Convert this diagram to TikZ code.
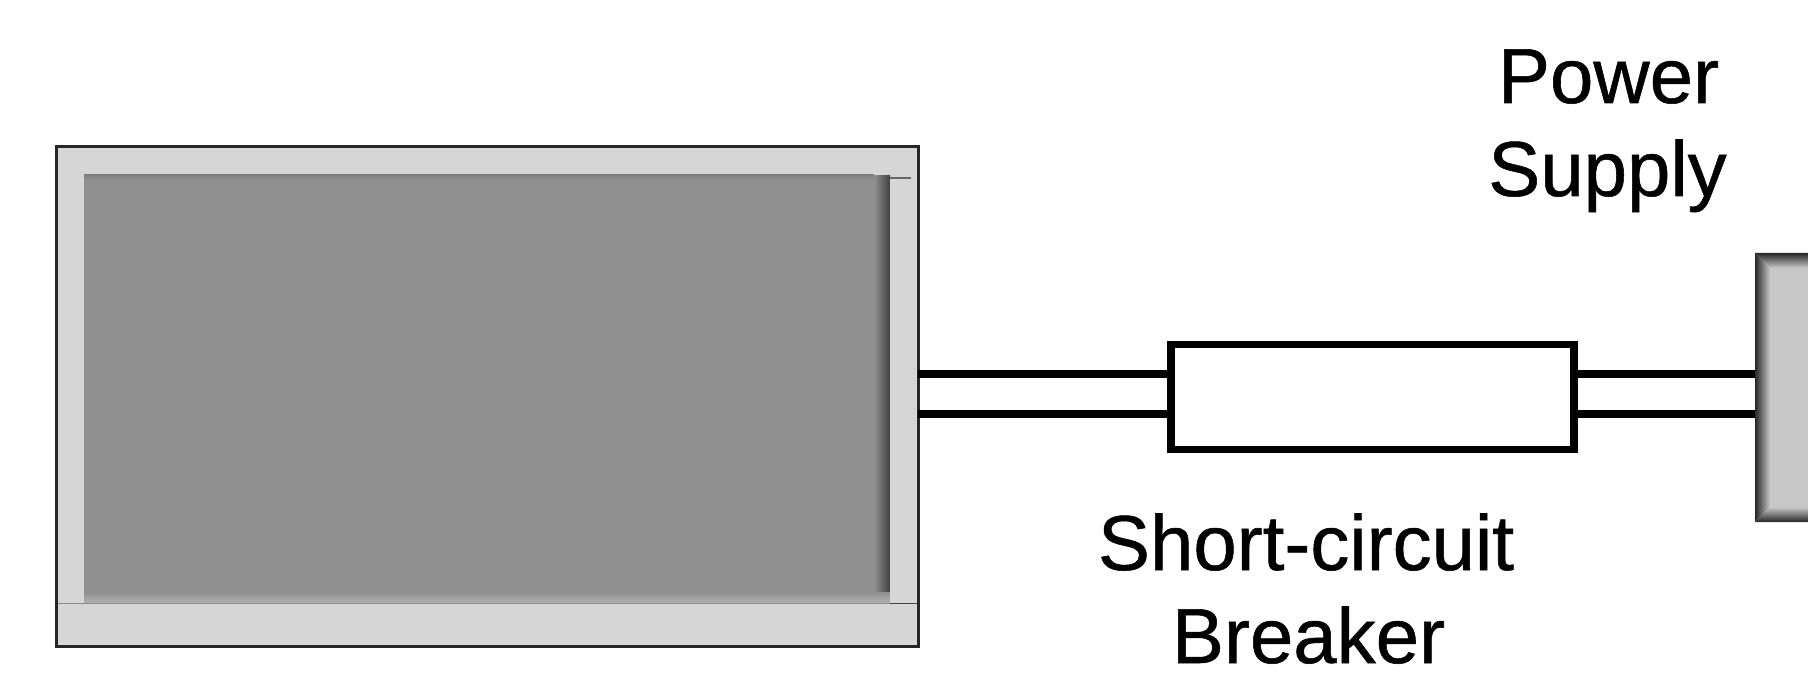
\documentclass[tikz,border=0pt]{standalone}
\usepackage{fontspec}
\setmainfont{Liberation Sans}
\newfontfamily\labelfont{Liberation Sans}[RawFeature={embolden=0.7}]
\tikzset{
  label text/.style={font=\labelfont\fontsize{78}{92}\selectfont,text=black,anchor=base,inner sep=0pt},
  wire/.style={line width=8pt,black},
  breaker box/.style={draw=black,line width=7.3pt,fill=white,inner sep=0pt,outer sep=0pt},
  tv frame/.style={draw=black!85,line width=3pt,fill=black!16,inner sep=0pt,outer sep=0pt},
}
\definecolor{screen}{gray}{0.565}
\definecolor{band}{gray}{0.84}
\definecolor{blockgray}{gray}{0.785}
\begin{document}
\begin{tikzpicture}[x=1pt,y=-1pt]
\useasboundingbox (0,0) rectangle (1808,695);
% display
\node[tv frame,fill=band,minimum width=862pt,minimum height=499pt] (tv) at (487,396.5) {};
\fill[screen] (84,176) rectangle (890,603);
\shade[left color=screen,right color=black!75] (874,176) rectangle (890,598);
\shade[top color=screen,bottom color=black!30] (84,592) rectangle (890,603);
\shade[top color=black!50,bottom color=screen] (84,175) rectangle (874,180);
\fill[band] (890,178) rectangle (917,603);
\draw[black!60,line width=1.2pt] (890,178) -- (911,178);
\draw[black!45,line width=1.5pt] (57,603.5) -- (890,603.5);
\draw[black!75,line width=1.5pt] (890,603.5) -- (917,603.5);
\draw[black!85,line width=3pt] (tv.north west) rectangle (tv.south east);
% breaker
\node[breaker box,minimum width=403pt,minimum height=105pt] (brk) at (1372.5,397) {};
% power block
\fill[blockgray] (1755,253) rectangle (1808,522);
\shade[left color=black!85,right color=blockgray] (1755,253) -- (1770,268) -- (1770,507) -- (1755,522) -- cycle;
\shade[top color=black!85,bottom color=blockgray] (1755,253) -- (1808,253) -- (1808,268) -- (1770,268) -- cycle;
\shade[bottom color=black!85,top color=blockgray] (1755,522) -- (1808,522) -- (1808,507) -- (1770,507) -- cycle;
\node[inner sep=0pt,outer sep=0pt,minimum width=53pt,minimum height=269pt] (psu) at (1781.5,387.5) {};
% connection points
\coordinate (tvA) at (tv.east |- 0,374);
\coordinate (tvB) at (tv.east |- 0,414);
\coordinate (brkLA) at (brk.west |- 0,374);
\coordinate (brkLB) at (brk.west |- 0,414);
\coordinate (brkRA) at (brk.east |- 0,374);
\coordinate (brkRB) at (brk.east |- 0,414);
\coordinate (psuA) at (psu.west |- 0,374);
\coordinate (psuB) at (psu.west |- 0,414);
\draw[wire] (tvA) -- (brkLA);
\draw[wire] (tvB) -- (brkLB);
\draw[wire] (brkRA) -- (psuA);
\draw[wire] (brkRB) -- (psuB);
% labels
\node[label text] (lp) at (1608.5,103) {Power};
\node[label text] (ls) at (1607.5,196) {Supply};
\node[label text] (lc) at (1306,570) {Short-circuit};
\node[label text] (lb) at (1308.5,663) {Breaker};
\end{tikzpicture}
\end{document}
